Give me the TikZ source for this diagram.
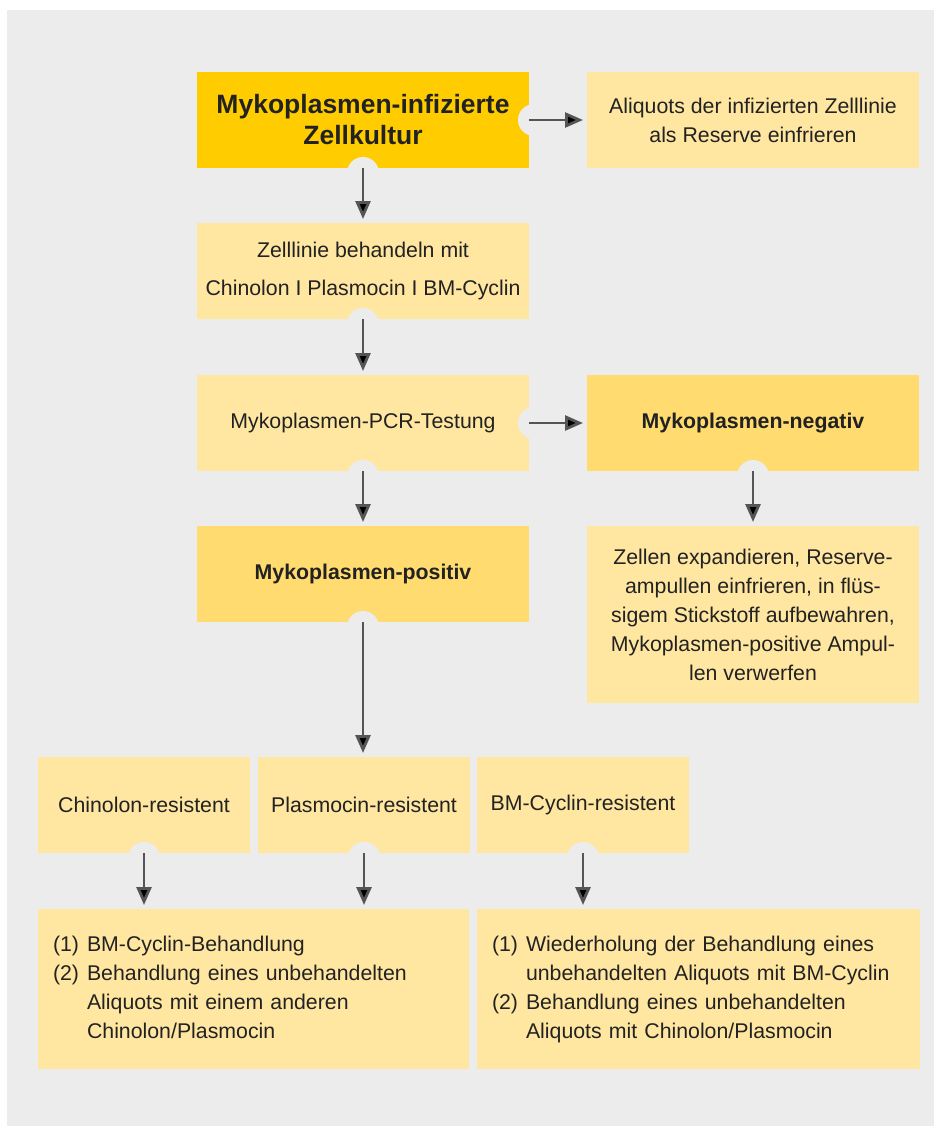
\documentclass[tikz,border=0pt]{standalone}
\usepackage{fontspec}
\setmainfont{Liberation Sans}
\usepackage{tikz}
\usetikzlibrary{arrows.meta}

\definecolor{bgc}{HTML}{ECECEC}
\definecolor{topc}{HTML}{FFCC00}
\definecolor{lightc}{HTML}{FFE7A1}
\definecolor{midc}{HTML}{FFDB70}
\definecolor{arrowc}{HTML}{555555}
\definecolor{textc}{HTML}{222222}

\begin{document}
\begin{tikzpicture}[x=1pt,y=-1pt,
    every node/.style={rectangle,fill=lightc,text=textc,inner sep=0pt,outer sep=0pt,align=center,
        minimum width=332pt,minimum height=96pt,font=\fontsize{21.3}{29}\selectfont},
    strong/.style={fill=midc,font=\fontsize{21.3}{29}\selectfont\bfseries},
    small/.style={minimum width=212pt},
    listbox/.style={align=left,inner xsep=15pt,minimum height=160pt},
    flow/.style={-{Triangle[length=18pt,width=15pt]},line width=2.8pt,draw=arrowc,shorten >=4pt},
    notch/.style={fill=bgc}]
    \useasboundingbox (0,0) rectangle (934,1126);
    \fill[bgc] (7,10) rectangle (934,1126);

    \node (infected) [fill=topc,font=\fontsize{26.5}{31}\selectfont\bfseries] at (363,120) {Mykoplasmen-infizierte \\ Zellkultur};
    \node (reserve) at (753,120) {Aliquots der infizierten Zelllinie \\ als Reserve einfrieren};
    \node (treat) [font=\fontsize{21.3}{38}\selectfont] at (363,271) {Zelllinie behandeln mit \\ Chinolon I Plasmocin I BM-Cyclin};
    \node (pcr) at (363,423) {Mykoplasmen-PCR-Testung};
    \node (negative) [strong] at (753,423) {Mykoplasmen-negativ};
    \node (positive) [strong] at (363,574) {Mykoplasmen-positiv};
    \node (expand) [minimum height=177pt] at (753,614.5) {Zellen expandieren, Reserve- \\ ampullen einfrieren, in flüs- \\ sigem Stickstoff aufbewahren, \\ Mykoplasmen-positive Ampul- \\ len verwerfen};
    \node (chinolon) [small] at (144,805) {Chinolon-resistent};
    \node (plasmocin) [small] at (364,805) {Plasmocin-resistent};
    \node (cyclin) [small] at (583,805) {BM-Cyclin-resistent};
    \node (leftlist) [listbox,text width=401pt] at (253.5,989) {\begin{tabular}{@{}l@{\hspace{8pt}}l@{}}
        (1) & BM-Cyclin-Behandlung \\
        (2) & Behandlung eines unbehandelten \\
            & Aliquots mit einem anderen \\
            & Chinolon/Plasmocin
        \end{tabular}};
    \node (rightlist) [listbox,text width=413pt] at (698.5,989) {\begin{tabular}{@{}l@{\hspace{8pt}}l@{}}
        (1) & Wiederholung der Behandlung eines \\
            & unbehandelten Aliquots mit BM-Cyclin \\
        (2) & Behandlung eines unbehandelten \\
            & Aliquots mit Chinolon/Plasmocin
        \end{tabular}};

    % notches where the arrows leave a box
    \fill[notch] ([yshift=-5pt]infected.south) circle (16pt);
    \fill[notch] ([xshift=5pt]infected.east) circle (16pt);
    \fill[notch] ([yshift=-5pt]treat.south) circle (16pt);
    \fill[notch] ([yshift=-5pt]pcr.south) circle (16pt);
    \fill[notch] ([xshift=5pt]pcr.east) circle (16pt);
    \fill[notch] ([yshift=-5pt]negative.south) circle (16pt);
    \fill[notch] ([yshift=-5pt]positive.south) circle (16pt);
    \fill[notch] ([yshift=-5pt]chinolon.south) circle (16pt);
    \fill[notch] ([yshift=-5pt]plasmocin.south) circle (16pt);
    \fill[notch] ([yshift=-5pt]cyclin.south) circle (16pt);

    \path [flow] (infected) edge (reserve);
    \path [flow] (infected) edge (treat);
    \path [flow] (treat) edge (pcr);
    \path [flow] (pcr) edge (negative);
    \path [flow] (pcr) edge (positive);
    \path [flow] (negative) edge (expand);
    \path [flow] (positive) edge (positive |- plasmocin.north);
    \path [flow] (chinolon) edge (chinolon |- leftlist.north);
    \path [flow] (plasmocin) edge (plasmocin |- leftlist.north);
    \path [flow] (cyclin) edge (cyclin |- rightlist.north);
\end{tikzpicture}
\end{document}
